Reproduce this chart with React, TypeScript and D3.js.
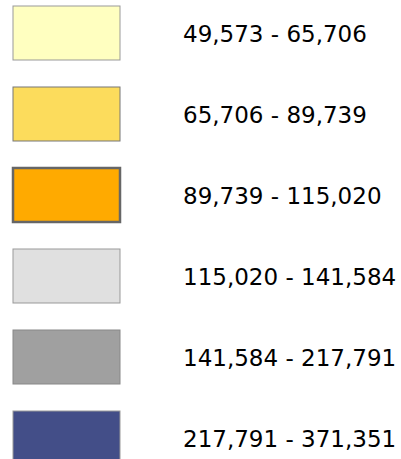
import {useRef,useEffect} from 'react'
import * as d3 from 'd3'

// legend classes (break values) and their fills
const breaks = [49573, 65706, 89739, 115020, 141584, 217791, 371351]
const colors = ['#ffffc0', '#fcdc5c', '#ffaa00', '#e0e0e0', '#a0a0a0', '#434e88']
const strokes = ['#999999', '#777777', '#666666', '#999999', '#888888', '#999999']

function App() {
  const ref = useRef<SVGSVGElement>(null)
  useEffect(()=> {
    const width = 401, height = 459
    const svg = d3.select(ref.current)
    svg.selectAll('*').remove()

    const classes = d3.range(breaks.length - 1)
    const fmt = d3.format(',')

    // step of 81px, boxes 54px tall
    const y = d3.scaleBand<number>()
      .domain(classes)
      .range([6, 6 + 81 * classes.length - 27])
      .paddingInner(27 / 81)
      .paddingOuter(0)

    const boxW = 107
    const g = svg.selectAll('g.row')
      .data(classes)
      .enter()
      .append('g')
      .attr('class', 'row')

    g.append('rect')
      .attr('x', 13)
      .attr('y', d => y(d)!)
      .attr('width', boxW)
      .attr('height', y.bandwidth())
      .attr('fill', d => colors[d])
      .attr('stroke', d => strokes[d])
      .attr('stroke-width', d => d === 2 ? 2.5 : 1)

    g.append('text')
      .attr('x', 183)
      .attr('y', d => y(d)! + y.bandwidth() / 2 + 9)
      .text(d => `${fmt(breaks[d])} - ${fmt(breaks[d + 1])}`)
      .style('font', '23px "DejaVu Sans", sans-serif')
      .attr('fill', '#000')

    svg.attr('width', width).attr('height', height)
  }, [])

  return (
    <svg ref={ref} style={{position:'absolute', left:0, top:0, display:'block'}} width={401} height={459}></svg>
  );
}

export default App;
